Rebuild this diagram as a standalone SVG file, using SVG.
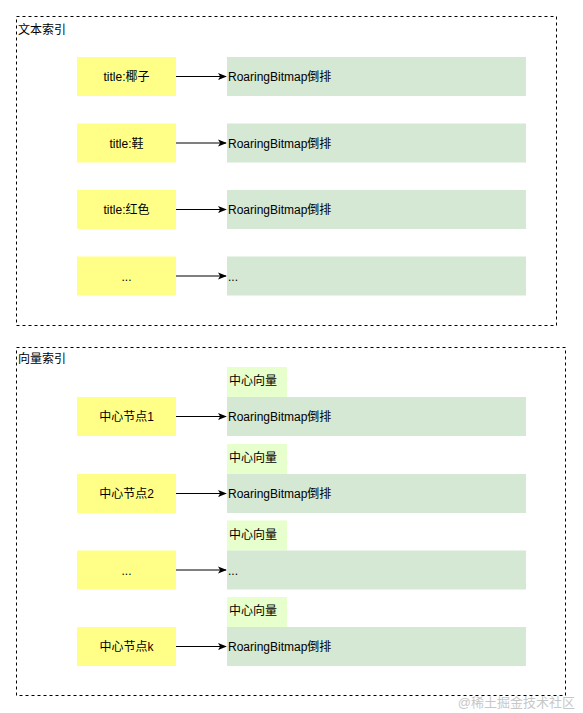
<svg xmlns="http://www.w3.org/2000/svg" width="583" height="713" viewBox="0 0 583 713">
<style>
text{font-family:"Liberation Sans","Noto Sans CJK SC",sans-serif;font-size:12px;fill:#000}
.frame{fill:none;stroke:#000;stroke-width:1;stroke-dasharray:3 3}
.key{fill:#ffff88}
.val{fill:#d5e8d4}
.vec{fill:#e6ffcc}
.c{text-anchor:middle}
.edge{stroke:#000;stroke-width:1;fill:none;marker-end:url(#ah)}
</style>
<defs>
<marker id="ah" viewBox="0 0 10 10" refX="9" refY="5" markerWidth="9" markerHeight="9" markerUnits="userSpaceOnUse" orient="auto">
<path d="M0,1 L10,5 L0,9 L2.5,5 Z" fill="#000"/>
</marker>
</defs>
<rect width="583" height="713" fill="#fff"/>
<g id="text-index">
<rect class="frame" x="16.5" y="16.5" width="540" height="309"/>
<text x="18" y="34">文本索引</text>
</g>
<g id="vector-index">
<rect class="frame" x="16.5" y="347.5" width="549" height="348"/>
<text x="18" y="363">向量索引</text>
</g>
<g id="t1"><rect class="key" x="77" y="57" width="99" height="39"/><text class="c" x="126.5" y="81">title:椰子</text></g>
<g id="t1v"><rect class="val" x="227" y="57" width="299" height="39"/><text x="228" y="81">RoaringBitmap倒排</text></g>
<g id="t2"><rect class="key" x="77" y="123.5" width="99" height="39"/><text class="c" x="126.5" y="147.5">title:鞋</text></g>
<g id="t2v"><rect class="val" x="227" y="123.5" width="299" height="39"/><text x="228" y="147.5">RoaringBitmap倒排</text></g>
<g id="t3"><rect class="key" x="77" y="190" width="99" height="39"/><text class="c" x="126.5" y="214">title:红色</text></g>
<g id="t3v"><rect class="val" x="227" y="190" width="299" height="39"/><text x="228" y="214">RoaringBitmap倒排</text></g>
<g id="t4"><rect class="key" x="77" y="256.5" width="99" height="39"/><text class="c" x="126.5" y="280.5">...</text></g>
<g id="t4v"><rect class="val" x="227" y="256.5" width="299" height="39"/><text x="228" y="280.5">...</text></g>
<g id="v1l"><rect class="vec" x="227" y="367" width="60" height="30"/><text x="229" y="385">中心向量</text></g>
<g id="v1"><rect class="key" x="77" y="397" width="99" height="39"/><text class="c" x="126.5" y="421">中心节点1</text></g>
<g id="v1v"><rect class="val" x="227" y="397" width="299" height="39"/><text x="228" y="421">RoaringBitmap倒排</text></g>
<g id="v2l"><rect class="vec" x="227" y="444" width="60" height="30"/><text x="229" y="462">中心向量</text></g>
<g id="v2"><rect class="key" x="77" y="474" width="99" height="39"/><text class="c" x="126.5" y="498">中心节点2</text></g>
<g id="v2v"><rect class="val" x="227" y="474" width="299" height="39"/><text x="228" y="498">RoaringBitmap倒排</text></g>
<g id="v3l"><rect class="vec" x="227" y="520.5" width="60" height="30"/><text x="229" y="538.5">中心向量</text></g>
<g id="v3"><rect class="key" x="77" y="550.5" width="99" height="39"/><text class="c" x="126.5" y="574.5">...</text></g>
<g id="v3v"><rect class="val" x="227" y="550.5" width="299" height="39"/><text x="228" y="574.5">...</text></g>
<g id="v4l"><rect class="vec" x="227" y="597" width="60" height="30"/><text x="229" y="615">中心向量</text></g>
<g id="v4"><rect class="key" x="77" y="627" width="99" height="39"/><text class="c" x="126.5" y="651">中心节点k</text></g>
<g id="v4v"><rect class="val" x="227" y="627" width="299" height="39"/><text x="228" y="651">RoaringBitmap倒排</text></g>
<g id="connectors">
<path class="edge" d="M176,76.5 H226"/>
<path class="edge" d="M176,143 H226"/>
<path class="edge" d="M176,209.5 H226"/>
<path class="edge" d="M176,276 H226"/>
<path class="edge" d="M176,416.5 H226"/>
<path class="edge" d="M176,493.5 H226"/>
<path class="edge" d="M176,570 H226"/>
<path class="edge" d="M176,646.5 H226"/>
</g>
<text x="575" y="707" style="text-anchor:end;fill:#c8c8c8;font-size:13px">@稀土掘金技术社区</text>
</svg>
